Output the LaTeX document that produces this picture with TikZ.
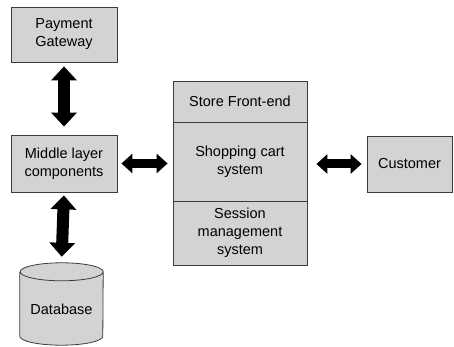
\documentclass[tikz,border=0pt]{standalone}
\usepackage{fontspec}
\setmainfont{Liberation Sans}
\usetikzlibrary{arrows.meta,backgrounds}
\definecolor{boxgray}{RGB}{211,211,211}
\definecolor{edgegray}{RGB}{60,60,60}
\begin{document}
\begin{tikzpicture}[x=1pt,y=1pt,
  box/.style={draw=edgegray, line width=0.8pt, fill=boxgray, align=center,
    inner sep=0pt, font=\fontsize{14.5}{18}\selectfont},
  bigarrow/.style={line width=12pt, {Triangle[width=25pt,length=14pt]}-{Triangle[width=25pt,length=14pt]}},
  midarrow/.style={line width=9pt, {Triangle[width=19pt,length=11pt]}-{Triangle[width=19pt,length=11pt]}}]
\useasboundingbox (0,0) rectangle (454,347);
\node[box, minimum width=106pt, minimum height=55pt] (pg) at (64,312.5) {Payment\\Gateway};
\node[box, minimum width=106pt, minimum height=57pt] (ml) at (64,183.5) {Middle layer\\components};
\node[box, minimum width=134pt, minimum height=41pt] (sf) at (240,245.5) {Store Front-end};
\node[box, minimum width=134pt, minimum height=79pt] (sc) at (240,185.5) {Shopping cart\\system};
\node[box, minimum width=134pt, minimum height=64pt] (sm) at (240,114) {Session\\management\\system};
\node[box, minimum width=85pt, minimum height=56pt] (cu) at (409.5,183) {Customer};
% database cylinder
\node[inner sep=0pt, minimum width=83pt, minimum height=82pt,
  font=\fontsize{14.5}{18}\selectfont] (db) at (61.5,43) {\raisebox{-11pt}[0pt][0pt]{Database}};
\begin{scope}[on background layer]
\filldraw[fill=boxgray, draw=edgegray, line width=0.8pt]
  ([yshift=-9pt]db.north west) -- ([yshift=9pt]db.south west)
  arc[start angle=180, end angle=360, x radius=41.5pt, y radius=9pt]
  -- ([yshift=-9pt]db.north east)
  arc[start angle=0, end angle=360, x radius=41.5pt, y radius=9pt];
\end{scope}
% arrows
\draw[bigarrow, shorten <=4pt, shorten >=8pt] (pg.south) -- (ml.north);
\draw[bigarrow, shorten <=3pt, shorten >=6pt] (ml.south) -- (db.north);
\draw[midarrow, shorten <=4pt, shorten >=5pt] (ml.east) -- (ml.east -| sc.west);
\draw[midarrow, shorten <=9pt, shorten >=5pt] (sc.east |- cu.west) -- (cu.west);
\end{tikzpicture}
\end{document}
